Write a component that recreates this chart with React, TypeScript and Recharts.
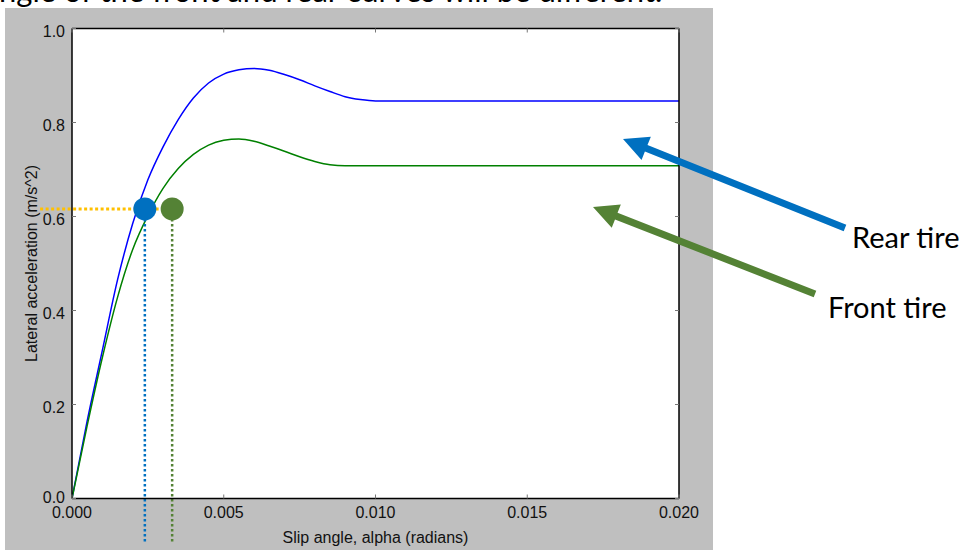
import React from 'react';
import { ComposedChart, Line, XAxis, YAxis, CartesianGrid, ReferenceLine, ReferenceDot } from 'recharts';

// slip angle samples (radians) shared by both tire curves
const slipAngle = [0, 0.0005, 0.001, 0.0015, 0.002, 0.0025, 0.003, 0.0035, 0.004, 0.0045, 0.005,
  0.0055, 0.006, 0.0065, 0.007, 0.0075, 0.008, 0.0085, 0.009, 0.0095, 0.01, 0.02];
const rearAccel = [0, 0.165, 0.315, 0.465, 0.585, 0.678, 0.748, 0.806, 0.852, 0.884, 0.903,
  0.912, 0.915, 0.911, 0.902, 0.891, 0.878, 0.866, 0.855, 0.849, 0.846, 0.846];
const frontAccel = [0, 0.155, 0.3, 0.428, 0.53, 0.602, 0.66, 0.702, 0.732, 0.752, 0.762,
  0.765, 0.76, 0.75, 0.739, 0.727, 0.717, 0.71, 0.708, 0.708, 0.708, 0.708];

const xTicks = [0, 0.005, 0.01, 0.015, 0.02];
const yTicks = [0, 0.2, 0.4, 0.6, 0.8, 1.0];

// operating point: same lateral acceleration, different slip angles
const targetAccel = 0.616;
const rearSlip = 0.0024;
const frontSlip = 0.0033;
const guideStart = -0.00105;
const guideEnd = 0.00366;
const guideBottom = -0.095;

const rearData = slipAngle.map((x, i) => ({ x, y: rearAccel[i] }));
const frontData = slipAngle.map((x, i) => ({ x, y: frontAccel[i] }));

const W = 964;
const H = 550;
const TICK_FONT = '"Liberation Sans", Arial, Helvetica, sans-serif';
const NOTE_FONT = 'Lato, "Open Sans", sans-serif';
const RED_BLUE = '#0070C0';
const DARK_GREEN = '#548235';

const BottomTick = (props: any) => {
  const { x, y, payload } = props;
  return (
    <g>
      <line x1={x} y1={y} x2={x} y2={y - 4} stroke="#777" strokeWidth={1} />
      <text x={x} y={y + 19} textAnchor="middle" fontSize={16} fontFamily={TICK_FONT} fill="#111">
        {Number(payload.value).toFixed(3)}
      </text>
    </g>
  );
};

const TopTick = (props: any) => {
  const { x, y } = props;
  return <line x1={x} y1={y} x2={x} y2={y + 4} stroke="#777" strokeWidth={1} />;
};

const LeftTick = (props: any) => {
  const { x, y, payload } = props;
  // the bottom label sits a little higher so it clears the x tick labels
  const dy = payload.value === 0 ? 4 : 8;
  return (
    <g>
      <line x1={x} y1={y} x2={x + 4} y2={y} stroke="#777" strokeWidth={1} />
      <text x={x - 7} y={y + dy} textAnchor="end" fontSize={16} fontFamily={TICK_FONT} fill="#111">
        {Number(payload.value).toFixed(1)}
      </text>
    </g>
  );
};

const RightTick = (props: any) => {
  const { x, y } = props;
  return <line x1={x} y1={y} x2={x - 4} y2={y} stroke="#777" strokeWidth={1} />;
};

// block arrow polygon from tail to tip
const arrowPoints = (x1: number, y1: number, x2: number, y2: number) => {
  const dx = x2 - x1;
  const dy = y2 - y1;
  const len = Math.hypot(dx, dy);
  const ux = dx / len;
  const uy = dy / len;
  const px = -uy;
  const py = ux;
  const shaft = 3.5;
  const head = 12.5;
  const headLen = 25;
  const bx = x2 - ux * headLen;
  const by = y2 - uy * headLen;
  const pts = [
    [x1 + px * shaft, y1 + py * shaft],
    [bx + px * shaft, by + py * shaft],
    [bx + px * head, by + py * head],
    [x2, y2],
    [bx - px * head, by - py * head],
    [bx - px * shaft, by - py * shaft],
    [x1 - px * shaft, y1 - py * shaft],
  ];
  return pts.map((p) => p.join(',')).join(' ');
};

export default function App() {
  const axisLine = { stroke: '#000', strokeWidth: 1.5 };
  return (
    <div style={{ position: 'absolute', left: 0, top: 0, width: W, height: H, background: '#fff', overflow: 'hidden' }}>
      <svg width={W} height={H} style={{ position: 'absolute', left: 0, top: 0 }}>
        <text x={-1} y={1.5} fontSize={31} fontFamily={NOTE_FONT} fill="#000">
          ngle of the front and rear curves will be different.
        </text>
      </svg>
      <div style={{ position: 'absolute', left: 5, top: 8, width: 708, height: 542, background: '#BFBFBF' }} />
      <div style={{ position: 'absolute', left: 0, top: 0 }}>
        <ComposedChart width={W} height={H} margin={{ top: 18.5, left: 32, right: 275, bottom: 21.5 }}>
          <CartesianGrid xAxisId="b" yAxisId="l" horizontal={false} vertical={false} fill="#fff" />
          <XAxis
            xAxisId="b"
            type="number"
            dataKey="x"
            domain={[0, 0.02]}
            ticks={xTicks}
            interval={0}
            height={30}
            tickSize={0}
            tickMargin={0}
            tickLine={false}
            axisLine={axisLine}
            tick={(p: any) => <BottomTick {...p} />}
            allowDataOverflow
            label={{
              content: ({ viewBox }: any) => (
                <text
                  x={viewBox.x + viewBox.width / 2}
                  y={viewBox.y + 44.5}
                  textAnchor="middle"
                  fontSize={16}
                  fontFamily={TICK_FONT}
                  fill="#111"
                >
                  Slip angle, alpha (radians)
                </text>
              ),
            }}
          />
          <XAxis
            xAxisId="t"
            orientation="top"
            type="number"
            dataKey="x"
            domain={[0, 0.02]}
            ticks={xTicks}
            interval={0}
            height={10}
            tickSize={0}
            tickMargin={0}
            tickLine={false}
            axisLine={axisLine}
            tick={(p: any) => <TopTick {...p} />}
            allowDataOverflow
          />
          <YAxis
            yAxisId="l"
            type="number"
            domain={[0, 1]}
            ticks={yTicks}
            interval={0}
            width={40}
            tickSize={0}
            tickMargin={0}
            tickLine={false}
            axisLine={axisLine}
            tick={(p: any) => <LeftTick {...p} />}
            allowDataOverflow
            label={{
              content: ({ viewBox }: any) => {
                const cx = viewBox.x - 1;
                const cy = viewBox.y + viewBox.height / 2;
                return (
                  <text
                    x={cx}
                    y={cy}
                    transform={`rotate(-90 ${cx} ${cy})`}
                    textAnchor="middle"
                    dominantBaseline="central"
                    fontSize={16}
                    fontFamily={TICK_FONT}
                    fill="#111"
                  >
                    Lateral acceleration (m/s^2)
                  </text>
                );
              },
            }}
          />
          <YAxis
            yAxisId="r"
            orientation="right"
            type="number"
            domain={[0, 1]}
            ticks={yTicks}
            interval={0}
            width={10}
            tickSize={0}
            tickMargin={0}
            tickLine={false}
            axisLine={axisLine}
            tick={(p: any) => <RightTick {...p} />}
            allowDataOverflow
          />
          <Line
            xAxisId="b"
            yAxisId="l"
            data={rearData}
            dataKey="y"
            type="monotone"
            stroke="#0000FF"
            strokeWidth={1.5}
            dot={false}
            activeDot={false}
            isAnimationActive={false}
          />
          <Line
            xAxisId="b"
            yAxisId="l"
            data={frontData}
            dataKey="y"
            type="monotone"
            stroke="#008000"
            strokeWidth={1.5}
            dot={false}
            activeDot={false}
            isAnimationActive={false}
          />
          <ReferenceLine
            xAxisId="b"
            yAxisId="l"
            segment={[{ x: rearSlip, y: targetAccel }, { x: rearSlip, y: guideBottom }]}
            stroke={RED_BLUE}
            strokeWidth={2.5}
            strokeDasharray="2.5 2.5"
            ifOverflow="visible"
          />
          <ReferenceLine
            xAxisId="b"
            yAxisId="l"
            segment={[{ x: frontSlip, y: targetAccel }, { x: frontSlip, y: guideBottom }]}
            stroke={DARK_GREEN}
            strokeWidth={2.5}
            strokeDasharray="2.5 2.5"
            ifOverflow="visible"
          />
          <ReferenceDot xAxisId="b" yAxisId="l" x={rearSlip} y={targetAccel} r={11.5} fill={RED_BLUE} stroke="none" />
          <ReferenceDot xAxisId="b" yAxisId="l" x={frontSlip} y={targetAccel} r={11.5} fill={DARK_GREEN} stroke="none" />
          <ReferenceLine
            xAxisId="b"
            yAxisId="l"
            segment={[{ x: guideStart, y: targetAccel }, { x: guideEnd, y: targetAccel }]}
            stroke="#FFC000"
            strokeWidth={3}
            strokeDasharray="3 2.5"
            ifOverflow="visible"
          />
        </ComposedChart>
      </div>
      <svg width={W} height={H} style={{ position: 'absolute', left: 0, top: 0, pointerEvents: 'none' }}>
        <polygon points={arrowPoints(845, 228, 623, 139)} fill={RED_BLUE} />
        <polygon points={arrowPoints(815, 294, 593, 207)} fill={DARK_GREEN} />
        <text x={852} y={248} fontSize={29} fontFamily={NOTE_FONT} fill="#000">Rear tire</text>
        <text x={828} y={318} fontSize={29} fontFamily={NOTE_FONT} fill="#000">Front tire</text>
      </svg>
    </div>
  );
}
